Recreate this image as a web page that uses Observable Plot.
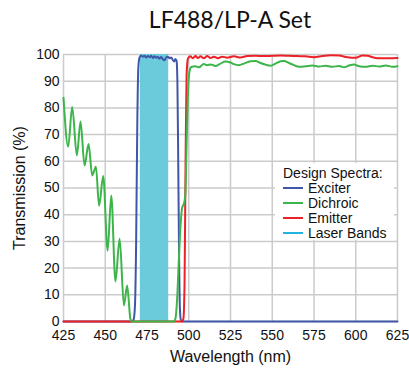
<!DOCTYPE html>
<html>
<head>
<meta charset="utf-8">
<script src="https://cdn.jsdelivr.net/npm/d3@7"></script>
<script src="https://cdn.jsdelivr.net/npm/@observablehq/plot@0.6"></script>
<style>
  html, body { margin: 0; padding: 0; background: #fff; }
  #wrap { position: relative; width: 409px; height: 368px; overflow: hidden; font-family: "Liberation Sans", Arial, sans-serif; }
  #title { position: absolute; left: 63px; width: 334px; top: 5px; text-align: center; font-family: Lato, "Open Sans", sans-serif; font-size: 23px; line-height: 28px; color: #111; }
  #chart { position: absolute; left: 0; top: 40px; }
  #legend { position: absolute; left: 275px; top: 163px; width: 119px; height: 77px; background: #fff; font-size: 14px; color: #111; }
  #legend .hd { position: absolute; left: 8px; top: 3px; height: 14px; line-height: 14px; white-space: nowrap; }
  #legend .row { position: absolute; left: 8px; height: 14px; line-height: 14px; white-space: nowrap; }
  #legend .sw { display: inline-block; width: 20px; height: 2px; vertical-align: middle; margin-right: 5px; position: relative; top: -1px; }
</style>
</head>
<body>
<div id="wrap">
  <div id="title"></div>
  <div id="chart"></div>
  <div id="legend"></div>
</div>
<script>
// ---- Data (wavelength nm, transmission %) ----
const chartTitle = "LF488/LP-A Set";
const xLabel = "Wavelength (nm)";
const yLabel = "Transmission (%)";
const legendTitle = "Design Spectra:";
const seriesNames = ["Exciter", "Dichroic", "Emitter", "Laser Bands"];
const xTicks = [425, 450, 475, 500, 525, 550, 575, 600, 625];
const yTicks = [0, 10, 20, 30, 40, 50, 60, 70, 80, 90, 100];

const laserBands = [[471, 488, 100]];

const exciter = [
  [425,0],[466,0],[467,0.8],[467.8,6],[468.5,30],[469.2,75],[469.8,95],[470.5,98.8],
  [471.5,99.6],[472.5,99.2],[473.5,99.5],[474.5,98.9],[475.5,99.4],[476.5,99.0],[477.5,99.5],
  [478.5,98.7],[479.5,99.3],[480.5,98.8],[481.5,99.2],[482.5,98.4],[483.5,99.1],[484.5,98.2],
  [485.5,97.8],[486.5,98.9],[487.5,99.2],[488.5,98.6],[489.5,98.9],[490.5,97.9],[491.3,97.4],
  [492,98.3],[492.7,97.6],[493.2,90],[493.7,60],[494.2,25],[494.7,5],[495.3,0.5],[496,0],[625,0]
];

const dichroic = [
  [425,83.8],[427.8,65.5],[430.2,80.3],[433,62.2],[435.2,74.9],[437.6,58.4],[440,66.5],
  [442.2,54.7],[444.4,58],[446.3,43.4],[448.8,54.5],[451.4,26.5],[453.6,47.2],[456.1,15],
  [458.6,31],[461.2,6],[463.1,13.5],[465.1,0.8],[466,0],[491,0],[492,1],[493,8],[494,22],
  [495,35],[496,42.5],[497.3,44.5],[498,48],[498.7,66],[499.5,85],[500.3,93],[501.5,95.3],
  [504,95.6],[506,95.2],[509,96.4],[511,96.0],[513,96.3],[516,95.7],[519,96.6],[522,97.4],
  [525,97.0],[527,96.4],[530,96.0],[533,96.6],[537,97.5],[540,97.6],[543,96.8],[546,96.2],
  [549,95.8],[552,96.6],[555,97.5],[557,97.6],[560,96.8],[563,96.0],[566,95.4],[570,95.6],
  [574,95.9],[578,95.5],[582,95.8],[586,95.4],[590,95.7],[593,95.2],[596,95.9],[599,96.3],
  [602,95.6],[606,95.4],[610,95.8],[614,95.5],[618,95.9],[622,95.4],[625,95.6]
];

const emitter = [
  [425,0],[496,0],[496.8,1],[497.5,15],[498.1,60],[498.7,92],[499.5,98.5],[501,99.3],
  [502.5,98.6],[504,99.4],[505.5,98.7],[507,99.3],[509,98.6],[511,99.4],[513,98.7],[515,99.2],
  [517.5,98.6],[520,99.2],[523,98.8],[527,99.3],[531,98.9],[535,99.4],[540,99.5],[545,99.4],
  [550,99.5],[555,99.6],[560,99.5],[565,99.4],[570,99.3],[575,99.0],[580,99.4],[585,99.7],
  [590,99.6],[595,99.0],[600,98.8],[604,99.6],[607,99.5],[611,98.8],[615,98.6],[620,98.6],[625,98.7]
];

// ---- Styles ----
const colors = { Exciter: "#3f57a8", Dichroic: "#3db54a", Emitter: "#ec2027", "Laser Bands": "#22b4e0" };
const bandFill = "#6ccbda";
const gridColor = "#cbcbcb";

const toObj = arr => arr.map(([x, y]) => ({x, y}));

const plot = Plot.plot({
  width: 409,
  height: 328,
  marginTop: 14,
  marginBottom: 47,
  marginLeft: 63,
  marginRight: 12,
  style: { fontFamily: '"Liberation Sans", Arial, sans-serif', fontSize: "14px", color: "#111", background: "transparent", overflow: "visible" },
  x: { domain: [425, 625] },
  y: { domain: [0, 100] },
  marks: [
    Plot.ruleX(xTicks, { stroke: gridColor, strokeWidth: 1.5 }),
    Plot.ruleY(yTicks, { stroke: gridColor, strokeWidth: 1.5 }),
    Plot.rect(laserBands, { x1: d => d[0], x2: d => d[1], y1: 0, y2: d => d[2], fill: bandFill }),
    Plot.line(toObj(exciter), { x: "x", y: "y", stroke: colors.Exciter, strokeWidth: 2, curve: "monotone-x" }),
    Plot.line(toObj(emitter), { x: "x", y: "y", stroke: colors.Emitter, strokeWidth: 2, curve: "monotone-x" }),
    Plot.line(toObj(dichroic), { x: "x", y: "y", stroke: colors.Dichroic, strokeWidth: 2, curve: "monotone-x" }),
    Plot.axisX({ ticks: xTicks, tickSize: 0, tickPadding: 9, fontSize: 14, label: xLabel, labelAnchor: "center", labelArrow: "none", labelOffset: 40 }),
    Plot.axisY({ ticks: yTicks, tickSize: 0, tickPadding: 4, fontSize: 14, label: yLabel, labelAnchor: "center", labelArrow: "none", labelOffset: 50 })
  ]
});
document.getElementById("chart").appendChild(plot);
document.getElementById("title").textContent = chartTitle;

// style axis labels
plot.querySelectorAll("[aria-label='x-axis label'] text, [aria-label='y-axis label'] text").forEach(t => t.setAttribute("font-size", "16px"));

// legend
const lg = document.getElementById("legend");
const hd = document.createElement("div");
hd.className = "hd"; hd.textContent = legendTitle; lg.appendChild(hd);
seriesNames.forEach((name, i) => {
  const r = document.createElement("div");
  r.className = "row";
  r.style.top = (18 + i * 15) + "px";
  const sw = document.createElement("span");
  sw.className = "sw"; sw.style.background = colors[name];
  r.appendChild(sw);
  r.appendChild(document.createTextNode(name));
  lg.appendChild(r);
});
</script>
</body>
</html>
